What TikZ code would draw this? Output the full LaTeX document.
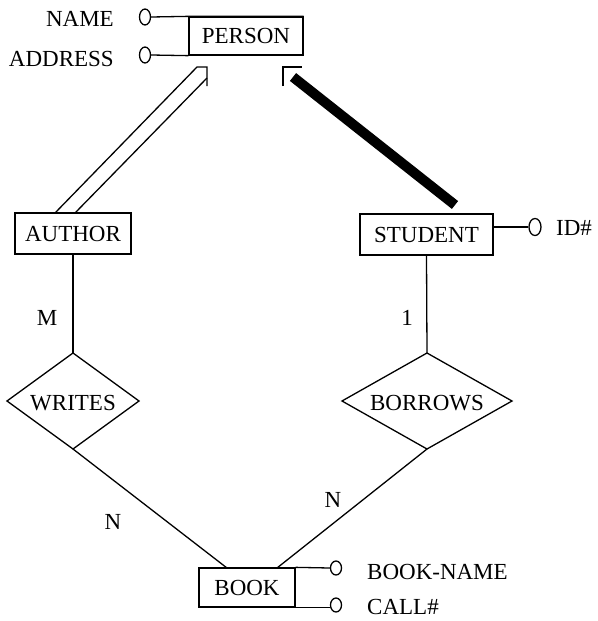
\documentclass[tikz,border=0pt]{standalone}
\usepackage{fontspec}
\setmainfont{Liberation Serif}
\usetikzlibrary{shapes.geometric}
\begin{document}
\begin{tikzpicture}[x=1pt,y=-1pt,
  every node/.style={font=\fontsize{23}{27}\selectfont, inner sep=0pt},
  ent/.style={draw, line width=1.3pt, minimum width=#1, minimum height=40pt},
  att/.style={draw, ellipse, line width=1.3pt, minimum width=11pt, minimum height=16pt},
  conn/.style={line width=1.3pt},
  rel/.style={draw, line width=1.3pt, line join=miter}]
\useasboundingbox (0,0) rectangle (597,621);
% entities
\node[ent=114pt, minimum height=38pt] (person) at (246,36) {PERSON};
\node[ent=116pt, minimum height=41pt] (author) at (73,233.5) {AUTHOR};
\node[ent=133pt, minimum height=41pt] (student) at (426.5,234.5) {STUDENT};
\node[ent=96pt, minimum height=39pt] (book) at (247,587.5) {BOOK};
% attributes
\node[att] (nameO) at (145,17) {};
\node[att] (addrO) at (145,55) {};
\node[anchor=east] (nameT) at (114,19) {NAME};
\node[anchor=east] (addrT) at (114,59) {ADDRESS};
\draw[conn] (nameO.east) -- (person.north west) -- (person.north east);
\draw[conn] (addrO.east) -- (person.south west);
\node[att, minimum height=17pt, minimum width=12pt] (idO) at (535,227) {};
\node[anchor=west] (idT) at (556,228) {ID\#};
\draw[conn] (idO.west) -- (idO.west -| student.east);
\node[att, minimum height=14pt] (bnO) at (336,568) {};
\node[att, minimum height=14pt] (cnO) at (336,605) {};
\node[anchor=west] (bnT) at (367,572) {BOOK-NAME};
\node[anchor=west] (cnT) at (367,607) {CALL\#};
\draw[conn] (book.north east) -- (bnO.west);
\draw[conn] (book.south east) -- (book.south east -| cnO.west);
% ISA connectors
\coordinate (a1) at (55,213);
\coordinate (a2) at (75,213);
\coordinate (p1) at (197,67);
\coordinate (pc) at (207,67);
\coordinate (p2) at (207,78);
\coordinate (p3) at (207,86);
\draw[conn] (a1) -- (p1) -- (pc) -- (p3);
\draw[conn] (a2) -- (p2);
\coordinate (q1) at (283,86);
\coordinate (qc) at (283,67);
\coordinate (q2) at (302,67);
\draw[conn] (q1) -- (qc) -- (q2);
\coordinate (s1) at (293,77);
\coordinate (s2) at (455,205);
\draw[line width=10pt] (s1) -- (s2);
% relationships
\coordinate (wt) at (73,353);
\coordinate (wl) at (7,401);
\coordinate (wr) at (139,401);
\coordinate (wb) at (73,449);
\draw[rel] (wt) -- (wr) -- (wb) -- (wl) -- cycle;
\node (writes) at (73,403) {WRITES};
\coordinate (bt) at (427,353);
\coordinate (bl) at (342,401);
\coordinate (br) at (512,401);
\coordinate (bb) at (427,449);
\draw[rel] (bt) -- (br) -- (bb) -- (bl) -- cycle;
\node (borrows) at (427,403) {BORROWS};
\draw[conn] (author.south) -- (wt);
\draw[conn] (student.south) -- (bt);
\coordinate (k1) at (227,568);
\coordinate (k2) at (277,568);
\draw[conn] (wb) -- (k1);
\draw[conn] (bb) -- (k2);
% cardinalities
\node (m) at (47,318) {M};
\node (one) at (407,318) {1};
\node (n1) at (113,522) {N};
\node (n2) at (333,500) {N};
\end{tikzpicture}
\end{document}
